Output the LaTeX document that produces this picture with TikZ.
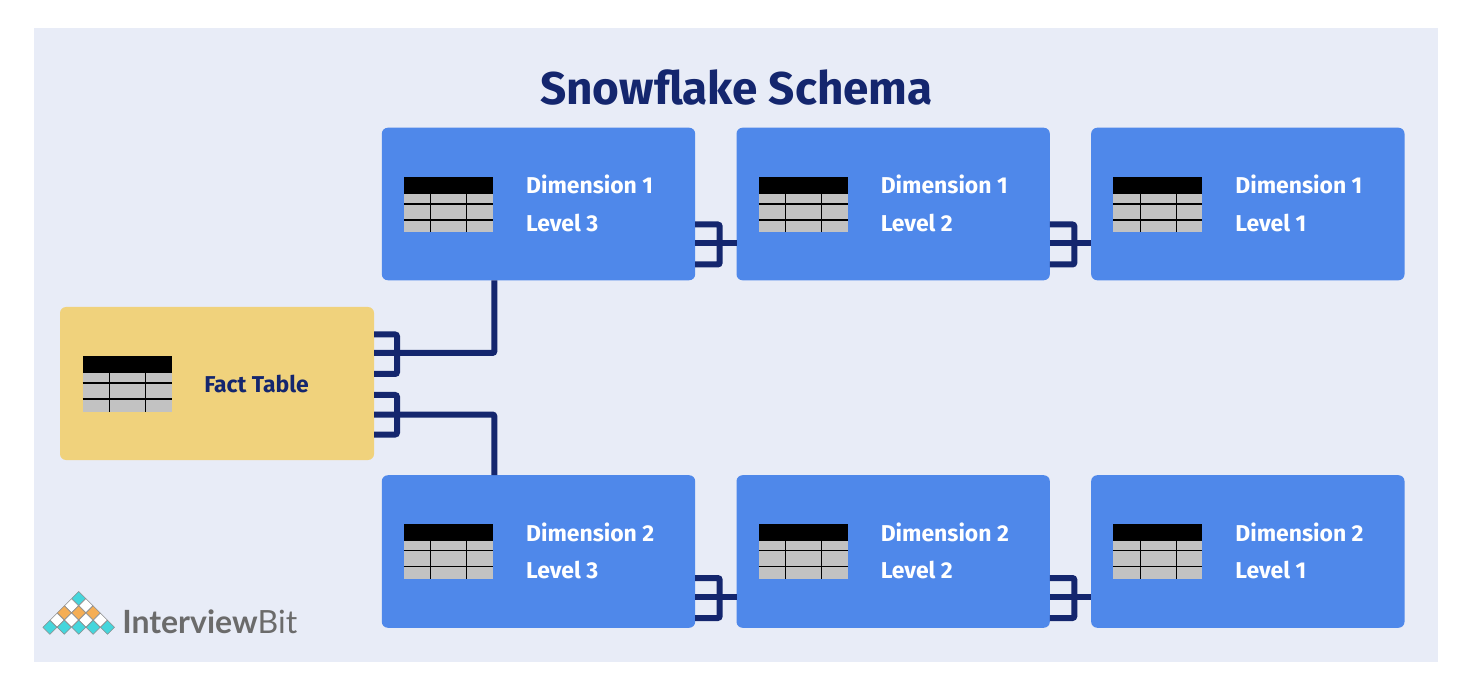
\documentclass[tikz,border=0pt]{standalone}
\usepackage{xcolor}
\definecolor{schemaBack}{HTML}{E8ECF7}
\definecolor{schemaBlue}{HTML}{4F88EA}
\definecolor{schemaGold}{HTML}{F0D27C}
\definecolor{schemaNavy}{HTML}{14266E}
\definecolor{logoTeal}{HTML}{45D6DC}
\definecolor{logoOrange}{HTML}{F5AE55}
\definecolor{logoGray}{HTML}{6B6B6B}
\usepackage{fontspec}
\setmainfont{Fira Sans}
\newfontfamily\logofont{Lato}
\usepackage{tikz}
\usetikzlibrary{positioning,calc}
\tikzset{
  tablepic/.pic={
    \fill[black!24] (0,0) rectangle (89,55.5);
    \fill[black] (0,0) rectangle (89,17);
    \draw[black,line width=0.8pt] (0,27) -- (89,27) (0,43) -- (89,43)
      (27,17) -- (27,55.5) (63,17) -- (63,55.5);
  }
}
\newcommand{\crowfork}[2]{
  \draw[link] ($(#1.east)+(0,#2-18.5)$) -- ++(24.5,0) -- ++(0,40) -- ++(-24.5,0);
}
\begin{document}
\begin{tikzpicture}[
  x=0.75pt,y=-0.75pt,
  font=\bfseries,
  dimbox/.style={fill=schemaBlue,rounded corners=4.5pt,minimum width=235pt,minimum height=114.4pt,inner sep=0pt,outer sep=0pt},
  factbox/.style={fill=schemaGold,rounded corners=4.5pt,minimum width=235.5pt,minimum height=114.75pt,inner sep=0pt,outer sep=0pt},
  dimtext/.style={text=white,anchor=west,font=\fontsize{17.2}{20}\selectfont\bfseries,inner sep=0pt},
  link/.style={schemaNavy,line width=4.5pt,rounded corners=1.5pt}
]
\useasboundingbox (0,0) rectangle (1468,684);
\fill[schemaBack] (34,28) rectangle (1438,662);
\node[text=schemaNavy,font=\fontsize{34.4}{40}\selectfont\bfseries] (title) at (736.5,87.5) {Snowflake Schema};

\node[dimbox] (d13) at (538.5,204) {};
\node[dimbox,right=31pt of d13] (d12) {};
\node[dimbox,right=31pt of d12] (d11) {};
\node[dimbox] (d23) at (538.5,551.5) {};
\node[dimbox,right=31pt of d23] (d22) {};
\node[dimbox,right=31pt of d22] (d21) {};
\node[factbox] (fact) at (217,383.5) {};

\foreach \tbl/\num/\lev/\dy in {d13/1/3/-27,d12/1/2/-27,d11/1/1/-27,d23/2/3/-28,d22/2/2/-28,d21/2/1/-28}{
  \path ($(\tbl.west)+(22,\dy)$) pic {tablepic};
  \node[dimtext] (\tbl a) at ($(\tbl.west)+(144,-19.5)$) {Dimension \num};
  \node[dimtext] (\tbl b) at ($(\tbl.west)+(144,18.5)$) {Level \lev};
}
\path ($(fact.west)+(22.5,-27.5)$) pic {tablepic};
\node[dimtext,text=schemaNavy] (factname) at ($(fact.west)+(144,0)$) {Fact Table};

% forks between the levels
\foreach \from/\to/\off in {d13/d12/39,d12/d11/39,d23/d22/45,d22/d21/45}{
  \crowfork{\from}{\off}
  \coordinate (\from m) at ($(\from.east)+(0,\off)$);
  \draw[link] (\from m) -- (\from m -| \to.west);
}
% forks on the fact table
\draw[link] ($(fact.east)+(0,-49)$) -- ++(23,0) -- ++(0,39.5) -- ++(-23,0);
\draw[link] ($(fact.east)+(0,11.5)$) -- ++(23,0) -- ++(0,39.5) -- ++(-23,0);
\draw[link] ($(fact.east)+(0,-30.5)$) -| ($(d13.south west)+(112.5,0)$);
\draw[link] ($(fact.east)+(0,31)$) -| ($(d23.north west)+(112.5,0)$);

% logo
\foreach \row/\y/\col in {0/598.5/logoTeal,1/605.7/white,2/612.9/logoOrange,3/620.1/white,4/627.3/logoTeal}{
  \foreach \i in {0,...,\row}{
    \fill[\col,draw=black!45,line width=0.4pt] ({78.7-7.2*\row+14.4*\i},\y-7) -- ++(7,7) -- ++(-7,7) -- ++(-7,-7) -- cycle;
  }
}
\node[text=logoGray,anchor=west,inner sep=0pt,font=\logofont\fontsize{24}{28}\selectfont] (logoname) at (122,622) {\textbf{Interview}{\mdseries Bit}};
\end{tikzpicture}
\end{document}
